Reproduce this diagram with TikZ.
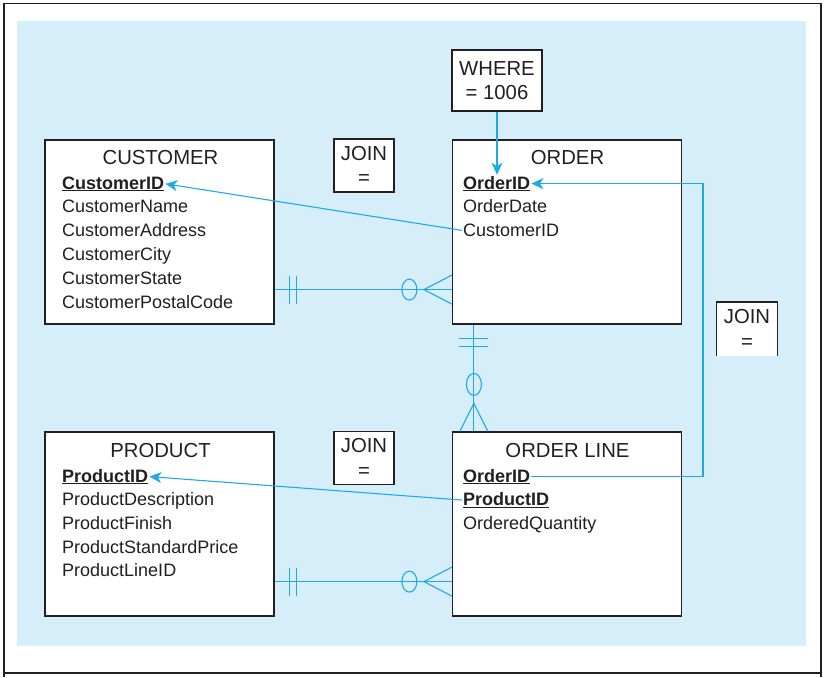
\documentclass[tikz,border=0pt]{standalone}
\usepackage{fontspec}
\setmainfont{Liberation Sans}
\usepackage{tikz}
\usetikzlibrary{arrows.meta}

\definecolor{ink}{RGB}{35,31,32}
\definecolor{bgblue}{RGB}{213,238,250}
\definecolor{relblue}{RGB}{30,170,232}

\newcommand{\pk}[1]{\underline{\textbf{#1}}}

\begin{document}
\begin{tikzpicture}[x=1pt,y=-1pt]
  \tikzstyle{entity}=[draw=ink,fill=white,line width=1.2pt,inner sep=0pt,
    minimum width=229pt,minimum height=184pt]
  \tikzstyle{title}=[anchor=base,inner sep=0pt,text=ink,
    font=\fontsize{20.3}{24}\selectfont]
  \tikzstyle{attr}=[anchor=base west,inner sep=1pt,text=ink,
    font=\fontsize{18}{21}\selectfont]
  \tikzstyle{joinbox}=[draw=ink,fill=white,line width=1.2pt,inner sep=0pt,
    minimum width=60pt,minimum height=53pt,align=center,text=ink,
    font=\fontsize{20.3}{24.5}\selectfont]
  \tikzstyle{fk}=[draw=relblue,line width=1.1pt,
    -{Stealth[length=12pt,width=11pt,inset=3.5pt]}]
  \tikzstyle{rel}=[draw=relblue,line width=1.1pt]
  \tikzstyle{frame}=[draw=ink,line width=1.3pt]

  \useasboundingbox (0,0) rectangle (826,677);
  \fill[bgblue] (17,21) rectangle (806,646);
  \draw[frame] (4,677) -- (4,3.5) -- (821,3.5) -- (821,677);
  \draw[frame] (4,673) -- (822,673);

  % tables
  \node[entity] (customer)  at (159.5,232) {};
  \node[entity] (order)     at (567,232)   {};
  \node[entity] (product)   at (159.5,524) {};
  \node[entity] (orderline) at (567,524)   {};

  \node[title] (custtitle) at (160.5,164.5) {CUSTOMER};
  \node[title] (ordtitle)  at (567.5,164.5) {ORDER};
  \node[title] (prodtitle) at (160.5,457)   {PRODUCT};
  \node[title] (oltitle)   at (567.5,457)   {ORDER LINE};

  \path
  (61,189)     node[attr] (custid)    {\pk{CustomerID}}
  ++(0,23.8)   node[attr] (custname)  {CustomerName}
  ++(0,23.8)   node[attr] (custaddr)  {CustomerAddress}
  ++(0,23.8)   node[attr] (custcity)  {CustomerCity}
  ++(0,23.8)   node[attr] (custstate) {CustomerState}
  ++(0,23.8)   node[attr] (custzip)   {CustomerPostalCode}
  ;
  \path
  (462,189)    node[attr] (ordid)     {\pk{OrderID}}
  ++(0,23.8)   node[attr] (orddate)   {OrderDate}
  ++(0,23.8)   node[attr] (ordcustid) {CustomerID}
  ;
  \path
  (61,482)     node[attr] (prodid)    {\pk{ProductID}}
  ++(0,23.7)   node[attr] (proddesc)  {ProductDescription}
  ++(0,23.7)   node[attr] (prodfin)   {ProductFinish}
  ++(0,23.7)   node[attr] (prodprice) {ProductStandardPrice}
  ++(0,23.7)   node[attr] (prodline)  {ProductLineID}
  ;
  \path
  (462,482)    node[attr] (olordid)   {\pk{OrderID}}
  ++(0,23.5)   node[attr] (olprodid)  {\pk{ProductID}}
  ++(0,23.5)   node[attr] (olqty)     {OrderedQuantity}
  ;

  % query boxes
  \node[joinbox,minimum width=90pt,minimum height=61pt] (where) at (497,80.5)
    {WHERE\\= 1006};
  \node[joinbox] (join1) at (364,165.5) {JOIN\\=};
  \node[joinbox] (join2) at (364,458)   {JOIN\\=};
  \node[joinbox,draw=none] (join3) at (747,329) {JOIN\\=};
  \draw[ink,line width=1.2pt] (join3.south west) |- (join3.north east)
    -- (join3.south east);

  % relationships
  \coordinate (r1) at ([yshift=35pt]customer.south east);
  \coordinate (r2) at ([yshift=35pt]product.south east);
  \coordinate (r3) at ([xshift=22pt]order.south west);
  \coordinate (joinx) at (703,0);

  \path[rel] (r1) -- (r1 -| order.west);
  \path[rel] (r1) ++(15,-14) -- ++(0,28) ++(7,0) -- ++(0,-28);
  \path[rel] (r1 -| order.west) ++(0,-14.5) -- ++(-28,14.5) -- ++(28,14.5);
  \path[rel] (r1 -| order.west) ++(-42.5,0)
    ellipse [x radius=7.5pt,y radius=10.5pt];

  \path[rel] (r2) -- (r2 -| orderline.west);
  \path[rel] (r2) ++(15,-14) -- ++(0,28) ++(7,0) -- ++(0,-28);
  \path[rel] (r2 -| orderline.west) ++(0,-14.5) -- ++(-28,14.5) -- ++(28,14.5);
  \path[rel] (r2 -| orderline.west) ++(-42.5,0)
    ellipse [x radius=7.5pt,y radius=10.5pt];

  \path[rel] (r3) -- (r3 |- orderline.north);
  \path[rel] (r3) ++(-14.5,14) -- ++(29,0) ++(0,8) -- ++(-29,0);
  \path[rel] (r3 |- orderline.north) ++(-14,0) -- ++(14,-28) -- ++(14,28);
  \path[rel] (r3 |- orderline.north) ++(0,-47)
    ellipse [x radius=7.5pt,y radius=11pt];

  % joins and restriction
  \path[fk] (ordcustid.west) -- (custid.east);
  \path[fk] (olprodid.west) -- (prodid.east);
  \path[fk] (olordid.east) -- (olordid.east -| joinx) |- (ordid.east);
  \path[fk] (where.south) -- (where.south |- ordid.north);
\end{tikzpicture}
\end{document}
